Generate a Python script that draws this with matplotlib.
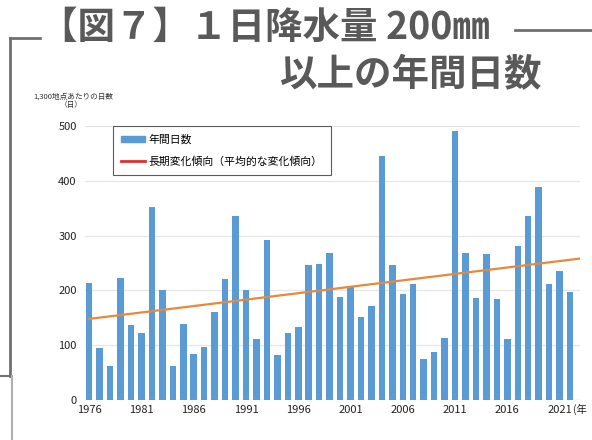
import numpy as np
import matplotlib
matplotlib.use("Agg")
from matplotlib import pyplot as plt
from matplotlib.lines import Line2D
from matplotlib.patches import Patch

plt.rcParams['font.family'] = ['Noto Sans CJK JP', 'DejaVu Sans']

# annual number of days with >= 200mm daily rainfall (per 1,300 stations)
years = list(range(1976, 2023))
days = [214, 94, 62, 222, 136, 122, 353, 201, 62, 139,
        84, 97, 161, 221, 335, 200, 111, 292, 82, 122,
        134, 246, 248, 268, 188, 208, 151, 172, 445, 246,
        194, 212, 74, 87, 114, 490, 268, 186, 266, 184,
        111, 281, 335, 389, 212, 235, 197]
# long-term trend line end points
trend_x = [1976, 2022.9]
trend_y = [148, 258]
tick_years = [1976, 1981, 1986, 1991, 1996, 2001, 2006, 2011, 2016, 2021]
y_ticks = [0, 100, 200, 300, 400, 500]

fig = plt.figure(figsize=(5.92, 4.40), dpi=100)
W, H = 592, 440

def fx(px):
    return px / W

def fy(py):
    return 1 - py / H

# frame decoration
gray = '#707070'
fig.add_artist(Line2D([fx(10), fx(10)], [fy(38), fy(376)], color=gray, lw=2))
fig.add_artist(Line2D([fx(10), fx(40)], [fy(38), fy(38)], color=gray, lw=2))
fig.add_artist(Line2D([fx(0), fx(10)], [fy(376), fy(376)], color=gray, lw=1.5))
fig.add_artist(Line2D([fx(12), fx(12)], [fy(376), fy(440)], color='#b0b0b0', lw=1.5))
fig.add_artist(Line2D([fx(515), fx(592)], [fy(30), fy(30)], color=gray, lw=2))

title_col = '#595959'
fig.text(fx(40), fy(27), '【図７】１日降水量 200㎜', fontsize=27, fontweight='bold',
         color=title_col, va='center', ha='left')
fig.text(fx(542), fy(75), '以上の年間日数', fontsize=27, fontweight='bold',
         color=title_col, va='center', ha='right')

fig.text(fx(33), fy(97), '1,300地点あたりの日数', fontsize=5.5, color='#333333',
         va='center', ha='left')
fig.text(fx(60), fy(105), '（日）', fontsize=5.5, color='#333333', va='center', ha='left')

ax = fig.add_axes([fx(85), fy(400), fx(580) - fx(85), fy(126) - fy(400)])
ax.bar(years, days, width=0.62, color='#5b9bd5', zorder=2)
ax.plot(trend_x, trend_y, color='#e8883a', lw=1.6, zorder=3)

ax.set_xlim(1975.6, 2022.95)
ax.set_ylim(0, 500)
ax.set_yticks(y_ticks)
ax.set_xticks(tick_years)
ax.set_xticklabels([str(y) for y in tick_years])
ax.tick_params(length=0, labelsize=8, colors='#222222')
ax.tick_params(axis='y', pad=6)
ax.grid(axis='y', color='#e6e6e6', lw=0.9, zorder=0)
for s in ax.spines.values():
    s.set_visible(False)
ax.axhline(0, color='#d9d9d9', lw=0.8, zorder=1)
fig.text(fx(573), fy(409), '(年', fontsize=7.5, color='#222222', va='center', ha='left')

handles = [Patch(color='#5b9bd5'), Line2D([0], [0], color='#e0302a', lw=2)]
labels = ['年間日数', '長期変化傾向（平均的な変化傾向）']
leg = ax.legend(handles, labels, loc='upper left', bbox_to_anchor=(0.056, 1.0),
                borderaxespad=0, fontsize=7.8, frameon=True, fancybox=False,
                edgecolor='#333333', handlelength=2.2, handleheight=0.5,
                borderpad=0.8, labelspacing=1.0, handletextpad=0.3)
leg.get_frame().set_linewidth(0.8)

fig.savefig('out.png', dpi=100)
